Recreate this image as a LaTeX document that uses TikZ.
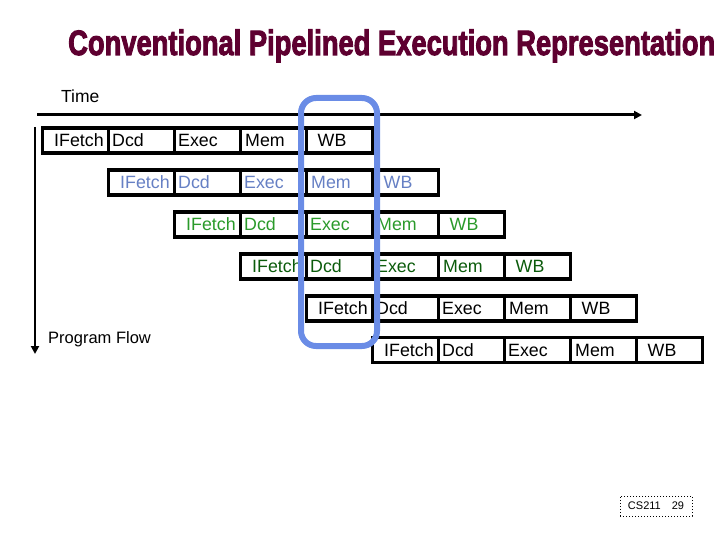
\documentclass[tikz,border=0pt]{standalone}
\usepackage{fontspec}
\setmainfont{Liberation Sans}
\newfontfamily\titlefont{Liberation Sans}[BoldFeatures={FakeBold=3}]
\usetikzlibrary{arrows.meta}
\definecolor{titlec}{HTML}{5E0030}
\definecolor{rowblue}{HTML}{6680C4}
\definecolor{rowgreen}{HTML}{2A9A2A}
\definecolor{rowdkgreen}{HTML}{0B5B0B}
\definecolor{boxblue}{HTML}{6A8CE6}
\tikzset{
  cell/.style={draw=black, line width=3.8pt, minimum width=66pt, minimum height=25pt, inner sep=0pt},
  celltext/.style={anchor=base west, inner sep=0pt, font=\fontsize{17.8}{20}\selectfont},
  axis/.style={line width=3pt, -{Triangle[length=8pt,width=8pt]}},
  plain/.style={anchor=base west, inner sep=0pt, font=\fontsize{17.5}{20}\selectfont}
}
\begin{document}
\begin{tikzpicture}[x=1pt,y=-1pt]
\useasboundingbox (0,0) rectangle (720,540);
\node[anchor=base west, inner sep=0pt, text=titlec] (title) at (68,55)
  {\resizebox{647pt}{25.5pt}{\titlefont\bfseries Conventional Pipelined Execution Representation}};
\node[plain] (time) at (61,103) {Time};
\coordinate (tstart) at (37,115);
\coordinate (tend) at (642,115);
\draw[axis] (tstart) -- (tend);
\coordinate (pstart) at (35,127);
\coordinate (pend) at (35,354);
\draw[axis, line width=2.5pt] (pstart) -- (pend);
\node[plain, font=\fontsize{16.5}{20}\selectfont] (flow) at (48,343) {Program Flow};
\foreach \r/\col in {0/black,1/rowblue,2/rowgreen,3/rowdkgreen,4/black,5/black}{
  \pgfmathsetmacro\yy{140.5+41.9*\r}
  \foreach \j/\name/\off in {0/IFetch/11.5,1/Dcd/3.5,2/Exec/3.5,3/Mem/4.5,4/WB/11}{
    \pgfmathsetmacro\xx{42.5+66*\r+66*\j}
    \node[cell] (c\r\j) at (\xx+33,\yy) {};
    \node[celltext, text=\col] (t\r\j) at (\xx+\off,\yy+6) {\name};
  }
}
\node[draw=boxblue, line width=6pt, rounded corners=15pt, minimum width=76pt, minimum height=248pt, inner sep=0pt] (focus) at (339,222) {};
\node[draw, dotted, line width=1pt, minimum width=72pt, minimum height=20pt, inner sep=0pt, font=\fontsize{11}{13}\selectfont] (foot) at (656,506) {CS211\quad 29};
\end{tikzpicture}
\end{document}
